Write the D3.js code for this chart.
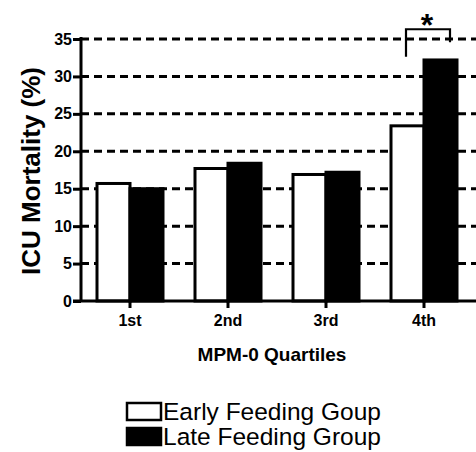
<!DOCTYPE html>
<html><head><meta charset="utf-8">
<script src="https://cdn.jsdelivr.net/npm/d3@7"></script>
<style>body{margin:0;background:#fff}svg{display:block}text{font-family:"Liberation Sans",Arial,sans-serif}</style>
</head><body>
<svg id="c" width="476" height="452"></svg>
<script>
const categories = ["1st","2nd","3rd","4th"];
const seriesNames = ["Early Feeding Goup","Late Feeding Group"];
const early = [15.7, 17.7, 16.9, 23.4];
const late = [15.0, 18.4, 17.2, 32.2];
const yTicks = [0,5,10,15,20,25,30,35];

const svg = d3.select("#c");
const L = 81, R = 476, T = 39, B = 301;
const y = d3.scaleLinear().domain([0,35]).range([B,T]);
const x = d3.scaleBand().domain(categories).range([L, L+392]).padding(0);
const cx = d => x(d) + x.bandwidth()/2;
const bw = 33;

// gridlines
svg.append("g").selectAll("line").data(yTicks.filter(d=>d>0)).join("line")
  .attr("x1", L).attr("x2", R).attr("y1", d=>y(d)).attr("y2", d=>y(d))
  .attr("stroke","#000").attr("stroke-width",3).attr("stroke-dasharray","8,5");

// bars
const data = categories.map((c,i)=>({c, e:early[i], l:late[i]}));
const g = svg.append("g");
g.selectAll("rect.e").data(data).join("rect")
  .attr("x", d=>cx(d.c)-bw).attr("width", bw)
  .attr("y", d=>y(d.e)).attr("height", d=>B-y(d.e))
  .attr("fill","#fff").attr("stroke","#000").attr("stroke-width",3);
g.selectAll("rect.l").data(data).join("rect")
  .attr("x", d=>cx(d.c)).attr("width", bw)
  .attr("y", d=>y(d.l)).attr("height", d=>B-y(d.l))
  .attr("fill","#000").attr("stroke","#000").attr("stroke-width",3);

// y axis
const ya = svg.append("g").attr("transform",`translate(${L},0)`)
  .call(d3.axisLeft(y).tickValues(yTicks).tickSize(8).tickPadding(1));
ya.select(".domain").attr("stroke-width",3).attr("d",`M0,${T-2}V${B}`);
ya.selectAll(".tick line").attr("stroke-width",3);
ya.selectAll("text").attr("font-size",16).attr("font-weight","bold").attr("fill","#000")
  .attr("font-family","Liberation Sans, Arial, sans-serif");

// x axis
const xa = svg.append("g").attr("transform",`translate(0,${B})`)
  .call(d3.axisBottom(x).tickSize(7).tickPadding(7));
xa.select(".domain").attr("stroke-width",3).attr("d",`M${L-8},0H${R}`);
xa.selectAll(".tick line").attr("stroke-width",3);
xa.selectAll("text").attr("font-size",16).attr("font-weight","bold").attr("fill","#000")
  .attr("font-family","Liberation Sans, Arial, sans-serif");

// titles
svg.append("text").attr("transform",`translate(40,171) rotate(-90)`)
  .attr("text-anchor","middle").attr("font-size",26).attr("font-weight","bold").text("ICU Mortality (%)");
svg.append("text").attr("x",272).attr("y",361).attr("text-anchor","middle")
  .attr("font-size",19).attr("font-weight","bold").text("MPM-0 Quartiles");

// significance
const sx1 = cx("4th") - 18, sx2 = cx("4th") + 26;
svg.append("path").attr("d",`M${sx1},${y(34.5)+14}V${y(35.1)-9}H${sx2}V${y(35.1)+4}`)
  .attr("fill","none").attr("stroke","#000").attr("stroke-width",2.2);
svg.append("text").attr("x",(sx1+sx2)/2 - 1).attr("y",36).attr("text-anchor","middle")
  .attr("font-size",32).attr("font-weight","bold").text("*");

// legend
const lg = svg.append("g");
seriesNames.forEach((n,i)=>{
  const yy = 403 + i*25;
  lg.append("rect").attr("x",127).attr("y",yy).attr("width",34).attr("height",17)
    .attr("fill", i? "#000":"#fff").attr("stroke","#000").attr("stroke-width",2.5);
  lg.append("text").attr("x",163).attr("y",yy+17).attr("font-size",24.5).text(n);
});
</script>
</body></html>
